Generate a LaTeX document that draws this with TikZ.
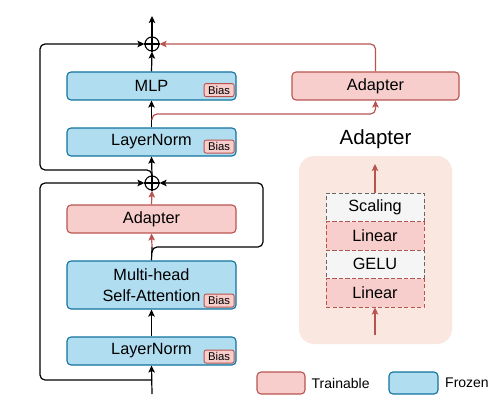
\documentclass[tikz,border=0pt]{standalone}
\usepackage{fontspec}
\setmainfont{Liberation Sans}
\usetikzlibrary{arrows.meta}
\definecolor{bfill}{HTML}{B1DDF0}
\definecolor{bdraw}{HTML}{10739E}
\definecolor{rfill}{HTML}{F8CECC}
\definecolor{rdraw}{HTML}{B85450}
\definecolor{bgpeach}{HTML}{F9E7E0}
\definecolor{gfill}{HTML}{F5F5F5}
\definecolor{gdraw}{HTML}{666666}
\begin{document}
\begin{tikzpicture}[x=1pt,y=-1pt,
  >={Stealth[length=7pt,width=6.5pt,inset=1.5pt]},
  mainbox/.style={rounded corners=4pt,line width=1.1pt,minimum width=169pt,minimum height=28pt,inner sep=0pt,font=\fontsize{16.3}{20.5}\selectfont,align=center},
  frozen/.style={mainbox,draw=bdraw,fill=bfill},
  trainbox/.style={mainbox,draw=rdraw,fill=rfill},
  biasbox/.style={draw=rdraw,fill=rfill,rounded corners=2pt,line width=0.9pt,minimum width=30pt,minimum height=13pt,inner sep=0pt,font=\fontsize{11.3}{12}\selectfont,anchor=south east},
  conn/.style={line width=1.2pt,->,rounded corners=5pt},
  rconn/.style={conn,draw=rdraw},
  plusnode/.style={circle,draw,line width=1.1pt,minimum size=14pt,inner sep=0pt},
  stackbox/.style={line width=1pt,dash pattern=on 4pt off 2.5pt,minimum width=98pt,minimum height=28.5pt,inner sep=0pt,font=\fontsize{16.3}{18}\selectfont},
  graybox/.style={stackbox,draw=gdraw,fill=gfill},
  redbox/.style={stackbox,draw=rdraw,fill=rfill},
  legbox/.style={rounded corners=4pt,line width=1.1pt,minimum width=48pt,minimum height=22pt,inner sep=0pt},
  legtext/.style={anchor=west,font=\fontsize{14}{16}\selectfont,inner sep=0pt}
]
\useasboundingbox (0,0) rectangle (497,409);

% adapter detail background
\fill[bgpeach,rounded corners=15pt] (299,156) rectangle (452,344);
\node[font=\fontsize{20.5}{24}\selectfont] (dtitle) at (375.5,139) {Adapter};
\node[graybox] (scal) at (375,207.25) {Scaling};
\node[graybox] (gelu) at (375,264.25) {GELU};
\node[redbox] (lin2) at (375,235.75) {Linear};
\node[redbox] (lin1) at (375,292.75) {Linear};
\coordinate (dout) at (375,164);
\coordinate (din) at (375,335);
\draw[rdraw,line width=1.1pt,->] (scal.north) -- (dout);
\draw[rdraw,line width=1.1pt,->] (din) -- (lin1.south);

% main column
\node[frozen] (mlp) at (151.5,86) {MLP};
\node[frozen] (ln1) at (151.5,142) {LayerNorm};
\node[trainbox] (adl) at (151.5,219) {Adapter};
\node[frozen,minimum height=48pt] (mhsa) at (151.5,285) {Multi-head\\Self-Attention};
\node[frozen] (ln2) at (151.5,351) {LayerNorm};
\node[trainbox,minimum width=167pt] (adr) at (375.5,86) {Adapter};

\node[biasbox] (bias1) at ([xshift=-2pt,yshift=3.5pt]mlp.south east) {Bias};
\node[biasbox] (bias2) at ([xshift=-2pt,yshift=3pt]ln1.south east) {Bias};
\node[biasbox] (bias3) at ([xshift=-2pt,yshift=2pt]mhsa.south east) {Bias};
\node[biasbox] (bias4) at ([xshift=-2pt,yshift=2pt]ln2.south east) {Bias};

% plus nodes
\node[plusnode] (p1) at (152,44) {};
\draw[line width=1.1pt] (p1.north) -- (p1.south) (p1.west) -- (p1.east);
\node[plusnode] (p2) at (152,183) {};
\draw[line width=1.1pt] (p2.north) -- (p2.south) (p2.west) -- (p2.east);

% coordinates
\coordinate (in) at (152,394);
\coordinate (out) at (152,16);
\coordinate (s2) at (152,380);
\coordinate (br2) at (152,247);
\coordinate (s1) at (152,170);
\coordinate (br1) at (152,114);

% connectors
\draw[conn] (in) -- (ln2.south);
\draw[conn] (ln2.north) -- (mhsa.south);
\draw[line width=1.2pt] (mhsa.north) -- (br2);
\draw[rconn] (br2) -- (adl.south);
\draw[conn] ([yshift=-6pt]br2) -- (br2) -- (263,247) -- (263,183) -- (p2.east);
\draw[conn] (s2) -- (40,380) -- (40,183) -- (p2.west);
\draw[rconn] (adl.north) -- (p2.south);
\draw[conn] (p2.north) -- (ln1.south);
\draw[conn] ([yshift=-6pt]s1) -- (s1) -- (40,170) -- (40,44) -- (p1.west);
\draw[conn] (ln1.north) -- (mlp.south);
\draw[rconn] ([yshift=-6pt]br1) -- (br1) -- (375.5,114) -- (adr.south);
\draw[conn] (mlp.north) -- (p1.south);
\draw[rconn] (adr.north) -- (375.5,44) -- (p1.east);
\draw[conn] (p1.north) -- (out);

% legend
\node[legbox,draw=rdraw,fill=rfill] (legt) at (281,383) {};
\node[legtext] (legtt) at (311.5,383) {Trainable};
\node[legbox,draw=bdraw,fill=bfill,minimum width=49pt] (legf) at (413.5,383) {};
\node[legtext] (legft) at (445,383) {Frozen};
\end{tikzpicture}
\end{document}
